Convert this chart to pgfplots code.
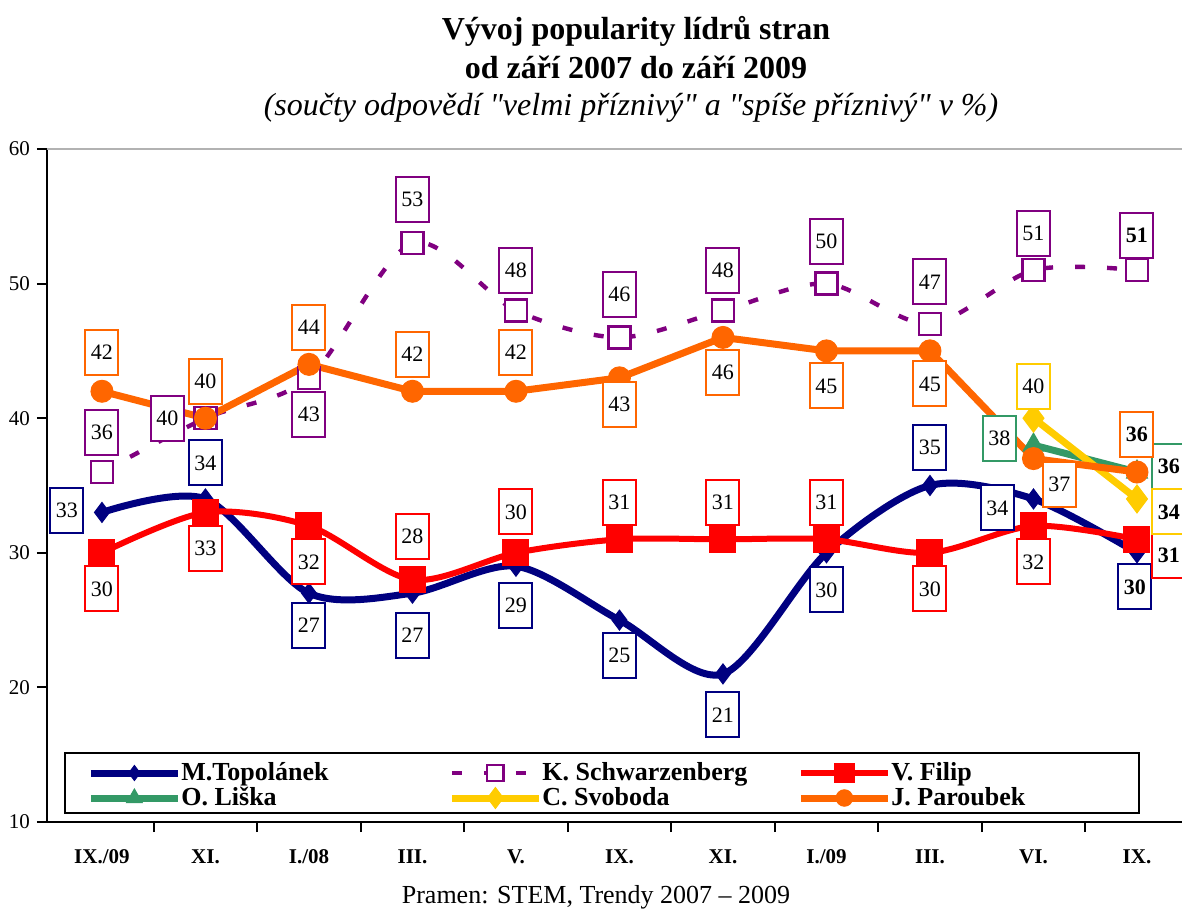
\documentclass[border=0pt]{standalone}
\usepackage{pgfplots}
\pgfplotsset{compat=1.18}
\usepackage{pgfplotstable}
\usepackage{fontspec}
\setmainfont{Liberation Serif}[Ligatures=TeXOff]

\definecolor{cNavy}{HTML}{000080}
\definecolor{cPurple}{HTML}{800080}
\definecolor{cRed}{HTML}{FF0000}
\definecolor{cGreen}{HTML}{339966}
\definecolor{cYellow}{HTML}{FFCC00}
\definecolor{cOrange}{HTML}{FF6600}

% x = category index, y = value, dx/dy = label box offset (pt)
\pgfplotstableread{
x y dx dy
0 33 -17.5 1
1 34 0 18
2 27 0 -16
3 27 0 -21
4 29 0 -19.5
5 25 0 -17.5
6 21 0 -20.5
7 30 0 -18.5
8 35 0 19
9 34 -18 -4.5
10 30 -1 -17
}\topo
\pgfplotstableread{
x y dx dy
0 36 0 20
1 40 -19 0
2 43 0 -18.5
3 53 0 22
4 48 0 20
5 46 0 21.5
6 48 0 20
7 50 0 21
8 47 0 21
9 51 0 18.5
10 51 0 17.5
}\schw
\pgfplotstableread{
x y dx dy
0 30 0 -18
1 33 0 -18
2 32 0 -18
3 28 0 21.5
4 30 0 20.5
5 31 0 18.5
6 31 0 18.5
7 31 0 18.5
8 30 0 -18
9 32 0 -18
10 31 16 -8
}\filip
\pgfplotstableread{
x y dx dy
9 38 -17 3.5
10 36 16 3
}\liska
\pgfplotstableread{
x y dx dy
9 40 0 16
10 34 16 -6.5
}\svoboda
\pgfplotstableread{
x y dx dy
0 42 0 19.5
1 40 0 18.5
2 44 0 18.5
3 42 0 18.5
4 42 0 19.5
5 43 0 -13.5
6 46 0 -17.5
7 45 0 -17.5
8 45 0 -16.5
9 37 13 -13
10 36 0 19
}\paroubek

\pgfplotsset{
  boxbase/.style={
    draw=none, mark=none, forget plot,
    point meta=y,
    visualization depends on={\thisrow{dx}\as\dx},
    visualization depends on={\thisrow{dy}\as\dy},
    nodes near coords,
    every node near coord/.append style={anchor=center, xshift=\dx pt, yshift=\dy pt,
      draw=#1, fill=white, line width=1pt, minimum width=16.5pt, minimum height=22.5pt,
      inner sep=0pt, font=\fontsize{11}{13}\selectfont, text=black},
  },
  boxlabels/.style={boxbase=#1, restrict x to domain=-1:9.5},
  boldlabels/.style={boxbase=#1, restrict x to domain=9.5:11,
    every node near coord/.append style={font=\fontsize{11}{13}\selectfont\bfseries}},
}

\begin{document}
\begin{tikzpicture}
\useasboundingbox (-23.5pt,-43.5pt) rectangle (567.5pt,411pt);
\begin{axis}[
  at={(0,0)}, anchor=south west,
  scale only axis, width=567.5pt, height=336.5pt,
  xmin=-0.531, xmax=10.435, ymin=10, ymax=60,
  clip=false,
  axis x line=bottom, axis y line=left,
  axis line style={-, line width=1.2pt, black},
  ytick={10,20,...,60},
  xtick={0,...,10},
  xticklabels={IX./09, XI., I./08, III., V., IX., XI., I./09, III., VI., IX.},
  minor xtick={0.5,1.5,...,9.5},
  major x tick style={draw=none},
  minor x tick style={black, line width=1pt},
  ytick style={black, line width=1pt},
  minor tick length=5pt, major tick length=5pt,
  tick align=outside,
  /pgf/number format/assume math mode=true,
  yticklabel style={font=\fontsize{10.5}{12}\selectfont},
  xticklabel style={font=\fontsize{10.5}{12}\selectfont\bfseries, anchor=center, text height=7pt, text depth=0pt, yshift=-12pt},
  legend columns=3,
  legend cell align=left,
  legend style={draw=none, fill=none, at={(rel axis cs:0,0)}, anchor=west,
    xshift=17pt, yshift=18.25pt,
    font=\fontsize{13}{13}\selectfont\bfseries,
    row sep=1pt, column sep=0pt, nodes={inner sep=0pt, text height=9.5pt, text depth=2pt}},
  legend image code/.code={\draw[mark repeat=2,mark phase=2,#1, every mark/.append style={scale=0.75}] plot coordinates {(0pt,0pt) (21.75pt,0pt) (43.5pt,0pt)};},
]
\draw[gray!60, line width=1pt] (rel axis cs:0,1) -- (rel axis cs:1,1);

\addplot[color=cNavy, line width=3.5pt, smooth, mark=diamond*, mark size=5pt, mark options={solid, line width=0.5pt}] table[x=x,y=y]{\topo};
\addlegendentry{\makebox[133.5pt][l]{M.Topolánek}}
\addplot[color=cPurple, line width=2.2pt, smooth, dash pattern=on 5pt off 11pt, mark=square*, mark size=5.5pt, mark options={solid, line width=1.2pt, fill=white, draw=cPurple}] table[x=x,y=y]{\schw};
\addlegendentry{\makebox[127.5pt][l]{K. Schwarzenberg}}
\addplot[color=cRed, line width=3pt, smooth, mark=square*, mark size=6.5pt, mark options={solid, line width=0.5pt}] table[x=x,y=y]{\filip};
\addlegendentry{V. Filip}
\addplot[color=cGreen, line width=3.5pt, mark=triangle*, mark size=6pt, mark options={solid, line width=0.5pt}] table[x=x,y=y]{\liska};
\addlegendentry{\makebox[133.5pt][l]{O. Liška}}
\addplot[color=cYellow, line width=3.5pt, mark=diamond*, mark size=7pt, mark options={solid, line width=0.5pt}] table[x=x,y=y]{\svoboda};
\addlegendentry{\makebox[127.5pt][l]{C. Svoboda}}
\addplot[color=cOrange, line width=3.5pt, mark=*, mark size=5.5pt, mark options={solid, line width=0.5pt}] table[x=x,y=y]{\paroubek};
\addlegendentry{J. Paroubek}

\addplot[boxlabels=cNavy] table[x=x,y=y]{\topo};
\addplot[boxlabels=cPurple] table[x=x,y=y]{\schw};
\addplot[boxlabels=cRed] table[x=x,y=y]{\filip};
\addplot[boxlabels=cGreen] table[x=x,y=y]{\liska};
\addplot[boxlabels=cYellow] table[x=x,y=y]{\svoboda};
\addplot[boxlabels=cOrange] table[x=x,y=y]{\paroubek};
\addplot[boldlabels=cNavy] table[x=x,y=y]{\topo};
\addplot[boldlabels=cPurple] table[x=x,y=y]{\schw};
\addplot[boldlabels=cRed] table[x=x,y=y]{\filip};
\addplot[boldlabels=cGreen] table[x=x,y=y]{\liska};
\addplot[boldlabels=cYellow] table[x=x,y=y]{\svoboda};
\addplot[boldlabels=cOrange] table[x=x,y=y]{\paroubek};

\draw[line width=1.2pt] (rel axis cs:0,0) ++(9pt,4.5pt) rectangle ++(537pt,30pt);
\end{axis}
\node[anchor=base, font=\fontsize{16}{19}\selectfont\bfseries] at (294.5pt,391pt) {Vývoj popularity lídrů stran};
\node[anchor=base, font=\fontsize{16}{19}\selectfont\bfseries] at (294.5pt,371.5pt) {od září 2007 do září 2009};
\node[anchor=base, font=\fontsize{16}{19}\selectfont\itshape] at (292pt,353pt) {(součty odpovědí "velmi příznivý" a "spíše příznivý" v \%)};
\node[anchor=base, font=\fontsize{13}{15}\selectfont] at (274.5pt,-40.5pt) {Pramen: STEM, Trendy 2007 – 2009};
\end{tikzpicture}
\end{document}
